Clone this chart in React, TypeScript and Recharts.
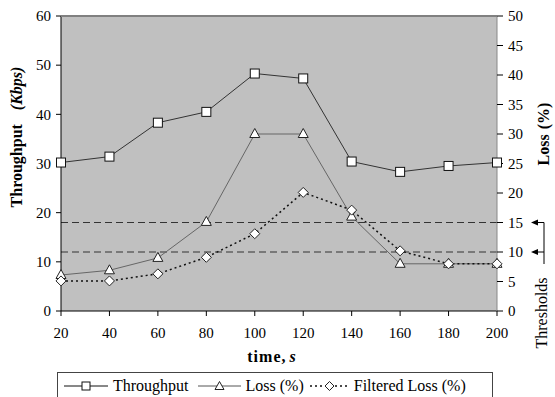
import { ComposedChart, Line, XAxis, YAxis, ReferenceLine } from "recharts";

const times = [20, 40, 60, 80, 100, 120, 140, 160, 180, 200];
const throughput = [30.2, 31.4, 38.3, 40.5, 48.3, 47.3, 30.4, 28.3, 29.5, 30.2];
const loss = [6.1, 6.9, 9.0, 15.1, 30, 30, 16, 8, 8, 8];
const filteredLoss = [5.1, 5.1, 6.3, 9.1, 13.1, 20.1, 17.1, 10.2, 8, 8];
const thresholds = [15, 10];

const leftTicks = [0, 10, 20, 30, 40, 50, 60];
const rightTicks = [0, 5, 10, 15, 20, 25, 30, 35, 40, 45, 50];

const data = times.map((t, i) => ({
  time: t,
  throughput: throughput[i],
  loss: loss[i],
  filtered: filteredLoss[i],
}));

const FONT = "Liberation Serif, Times New Roman, serif";
const W = 555;
const H = 397;
const PLOT_TOP = 16;
const PLOT_BOTTOM = 311;
// right axis value -> pixel, only for the threshold arrows outside the plot
const rightY = (v: number) => PLOT_BOTTOM - (v / 50) * (PLOT_BOTTOM - PLOT_TOP);

function Square(props: any) {
  const { cx, cy, key } = props;
  if (cx == null || cy == null) return <g key={key} />;
  return <rect key={key} x={cx - 4.5} y={cy - 4.5} width={9} height={9} fill="#fff" stroke="#111" strokeWidth={1} />;
}

function Triangle(props: any) {
  const { cx, cy, key } = props;
  if (cx == null || cy == null) return <g key={key} />;
  return (
    <polygon
      key={key}
      points={`${cx},${cy - 5.5} ${cx - 5},${cy + 3.5} ${cx + 5},${cy + 3.5}`}
      fill="#fff"
      stroke="#222"
      strokeWidth={1}
    />
  );
}

function Diamond(props: any) {
  const { cx, cy, key } = props;
  if (cx == null || cy == null) return <g key={key} />;
  return (
    <polygon
      key={key}
      points={`${cx},${cy - 5} ${cx + 5},${cy} ${cx},${cy + 5} ${cx - 5},${cy}`}
      fill="#fff"
      stroke="#222"
      strokeWidth={1}
    />
  );
}

function LegendIcon({ kind, width }: { kind: string; width: number }) {
  const m = width / 2;
  return (
    <svg width={width} height={12} style={{ display: "block" }}>
      {kind === "filtered" ? (
        <line x1={0} y1={6} x2={width} y2={6} stroke="#111" strokeWidth={1.5} strokeDasharray="2 3" />
      ) : (
        <line x1={0} y1={6} x2={width} y2={6} stroke={kind === "loss" ? "#555" : "#111"} strokeWidth={1} />
      )}
      {kind === "throughput" && <rect x={m - 4} y={2} width={8} height={8} fill="#fff" stroke="#111" />}
      {kind === "loss" && <polygon points={`${m},1.5 ${m - 4.5},9.5 ${m + 4.5},9.5`} fill="#fff" stroke="#222" />}
      {kind === "filtered" && <polygon points={`${m},1.5 ${m + 4.5},6 ${m},10.5 ${m - 4.5},6`} fill="#fff" stroke="#222" />}
    </svg>
  );
}

const legendItems = [
  { kind: "throughput", label: "Throughput", icon: 44, before: 0 },
  { kind: "loss", label: "Loss (%)", icon: 43, before: 9 },
  { kind: "filtered", label: "Filtered Loss (%)", icon: 39, before: 6 },
];

const tickStyle = { fill: "#000", fontSize: 15, fontFamily: FONT };

export default function App() {
  return (
    <div style={{ position: "relative", width: W, height: H, overflow: "hidden", background: "#fff", fontFamily: FONT }}>
      <style>{`body{margin:0;overflow:hidden}`}</style>
      <ComposedChart width={W} height={H} data={data} margin={{ top: PLOT_TOP, right: 13, left: 16, bottom: 56 }}>
        <rect x={61} y={PLOT_TOP} width={436} height={PLOT_BOTTOM - PLOT_TOP} fill="#c0c0c0" />
        <XAxis
          dataKey="time"
          type="number"
          domain={[20, 200]}
          ticks={times}
          height={30}
          tickSize={5}
          tickMargin={11}
          stroke="#000"
          tick={tickStyle}
          axisLine={{ stroke: "#000" }}
        />
        <YAxis
          yAxisId="left"
          domain={[0, 60]}
          ticks={leftTicks}
          width={45}
          tickSize={5}
          tickMargin={5}
          interval={0}
          tick={tickStyle}
          axisLine={{ stroke: "#000" }}
          tickLine={{ stroke: "#000" }}
        />
        <YAxis
          yAxisId="right"
          orientation="right"
          domain={[0, 50]}
          ticks={rightTicks}
          width={45}
          tickSize={6}
          tickMargin={5}
          interval={0}
          tick={tickStyle}
          axisLine={{ stroke: "#888" }}
          tickLine={{ stroke: "#000" }}
        />
        {thresholds.map((t) => (
          <ReferenceLine key={t} yAxisId="right" y={t} stroke="#333" strokeWidth={1} strokeDasharray="7 4" />
        ))}
        <Line
          yAxisId="left"
          dataKey="throughput"
          stroke="#333"
          strokeWidth={1}
          dot={Square}
          isAnimationActive={false}
        />
        <Line
          yAxisId="right"
          dataKey="loss"
          stroke="#666"
          strokeWidth={1}
          dot={Triangle}
          isAnimationActive={false}
        />
        <Line
          yAxisId="right"
          dataKey="filtered"
          stroke="#111"
          strokeWidth={1.5}
          strokeDasharray="2 3"
          dot={Diamond}
          isAnimationActive={false}
        />
      </ComposedChart>

      <svg width={W} height={H} style={{ position: "absolute", left: 0, top: 0, pointerEvents: "none" }}>
        <line x1={61} y1={PLOT_TOP} x2={497} y2={PLOT_TOP} stroke="#808080" strokeWidth={2} />
        <text
          transform="translate(22,137) rotate(-90)"
          textAnchor="middle"
          fontFamily={FONT}
          fontSize={16}
          fontWeight="bold"
          fill="#000"
        >
          Throughput
          <tspan dx={14} fontStyle="italic">(Kbps)</tspan>
        </text>
        <text
          transform="translate(549,134) rotate(-90)"
          textAnchor="middle"
          fontFamily={FONT}
          fontSize={16}
          fontWeight="bold"
          fill="#000"
        >
          Loss
          <tspan dx={5}>(%)</tspan>
        </text>
        <text x={272} y={362} textAnchor="middle" fontFamily={FONT} fontSize={16} fontWeight="bold" fill="#000" letterSpacing={1}>
          time,
          <tspan dx={3} fontStyle="italic">s</tspan>
        </text>
        <text
          transform="translate(547,313) rotate(-90)"
          textAnchor="middle"
          fontFamily={FONT}
          fontSize={16}
          fill="#000"
        >
          Thresholds
        </text>
        <line x1={544} y1={rightY(thresholds[0])} x2={544} y2={264} stroke="#000" strokeWidth={1} />
        {thresholds.map((t) => (
          <g key={t}>
            <line x1={537} y1={rightY(t)} x2={544} y2={rightY(t)} stroke="#000" strokeWidth={1} />
            <polygon points={`${531},${rightY(t)} ${538},${rightY(t) - 3} ${538},${rightY(t) + 3}`} fill="#000" />
          </g>
        ))}
      </svg>

      <div
        style={{
          position: "absolute",
          left: 57,
          top: 372,
          width: 436,
          height: 32,
          boxSizing: "border-box",
          border: "1px solid #444",
          display: "flex",
          alignItems: "flex-start",
          paddingTop: 4,
          paddingLeft: 6,
          fontSize: 16,
          lineHeight: "18px",
          color: "#000",
          whiteSpace: "nowrap",
        }}
      >
        {legendItems.map((it) => (
          <div key={it.kind} style={{ display: "flex", alignItems: "center", marginLeft: it.before }}>
            <LegendIcon kind={it.kind} width={it.icon} />
            <span style={{ marginLeft: 5 }}>{it.label}</span>
          </div>
        ))}
      </div>
    </div>
  );
}
